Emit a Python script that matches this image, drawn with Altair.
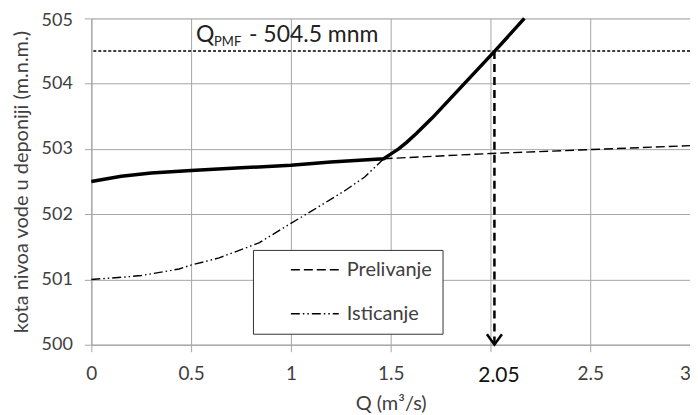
import altair as alt
import pandas as pd

# ---- data ----
thick_x = [0, 0.15, 0.3, 0.5, 0.75, 1.0, 1.2, 1.465, 1.5, 1.54, 1.58, 1.63, 1.71, 1.875, 2.025, 2.17]
thick_y = [502.5, 502.58, 502.63, 502.67, 502.71, 502.75, 502.8, 502.85, 502.92, 503.0, 503.1, 503.24, 503.48, 504.02, 504.51, 505.0]

prel_x = [1.465, 2.0, 2.5, 3.0]
prel_y = [502.85, 502.93, 502.99, 503.05]

ist_x = [0, 0.16, 0.25, 0.44, 0.5, 0.64, 0.84, 1.0, 1.105, 1.27, 1.37, 1.465]
ist_y = [501.0, 501.035, 501.06, 501.16, 501.22, 501.33, 501.56, 501.86, 502.05, 502.36, 502.57, 502.85]

series_names = ["Prelivanje", "Isticanje"]
pmf_level = 504.5
pmf_q = 2.02
bottom_level = 500
label_q = 0.525
label_y = 504.64
label_parts = ["Q", "PMF", "- 504.5 mnm"]

x_ticks = [0, 0.5, 1, 1.5, 2, 2.5, 3]
y_ticks = [500, 501, 502, 503, 504, 505]

FONT = "Lato"
GRID = "#a6a6a6"
TXT = "#404040"

df_thick = pd.DataFrame({"Q": thick_x, "H": thick_y})
df_series = pd.concat([
    pd.DataFrame({"Q": prel_x, "H": prel_y, "s": series_names[0], "o": range(len(prel_x))}),
    pd.DataFrame({"Q": ist_x, "H": ist_y, "s": series_names[1], "o": range(len(ist_x))}),
])
df_pmf = pd.DataFrame({"H": [pmf_level]})
df_arrow = pd.DataFrame({"Q": [pmf_q], "H": [pmf_level], "H2": [bottom_level]})
df_tip = pd.DataFrame({"Q": [pmf_q], "H": [bottom_level]})
df_lab = pd.DataFrame({"Q": [label_q], "H": [label_y]})

xscale = alt.Scale(domain=[0, 3], nice=False, zero=False)
yscale = alt.Scale(domain=[500, 505], nice=False, zero=False)

xaxis = alt.Axis(
    values=x_ticks, format="~g", labelFlush=False,
    labelExpr="datum.value == 2 ? '2.05' : datum.label",
    labelFontSize={"condition": {"test": "datum.value == 2", "value": 21}, "value": 19},
    labelColor={"condition": {"test": "datum.value == 2", "value": "#111111"}, "value": TXT},
    labelOffset={"expr": "datum.value == 2 ? 8 : (datum.value == 3 ? -5 : 0)"},
    labelFont=FONT, labelPadding=13,
    grid=True, gridColor=GRID, gridWidth=1,
    domainColor=GRID, tickColor=GRID, tickSize=7,
    title="Q (m³/s)", titleFont=FONT, titleFontSize=20, titleFontWeight="normal",
    titleColor=TXT, titlePadding=8,
)
yaxis = alt.Axis(
    values=y_ticks, format="d", labelFlush=False,
    labelOffset={"condition": {"test": "datum.value == 505", "value": 2}, "value": 0},
    labelFont=FONT, labelFontSize=18, labelColor=TXT, labelPadding=12,
    grid=True, gridColor=GRID, gridWidth=1,
    domainColor=GRID, tickColor=GRID, tickSize=7,
    title="kota nivoa vode u deponiji (m.n.m.)", titleFont=FONT, titleFontSize=20,
    titleFontWeight="normal", titleColor=TXT, titlePadding=10,
)

X = alt.X("Q:Q", scale=xscale, axis=xaxis)
Y = alt.Y("H:Q", scale=yscale, axis=yaxis)
Xp = alt.X("Q:Q", scale=xscale)
Yp = alt.Y("H:Q", scale=yscale)

thick = alt.Chart(df_thick).mark_line(color="black", strokeWidth=3.5).encode(x=X, y=Y)

series = alt.Chart(df_series).mark_line(color="black", strokeWidth=1.4).encode(
    x=Xp, y=Yp, order="o:Q",
    strokeDash=alt.StrokeDash(
        "s:N",
        scale=alt.Scale(domain=series_names, range=[[9, 4], [9, 3, 1.5, 3, 1.5, 3]]),
        legend=alt.Legend(
            title=None, orient="none", legendX=162, legendY=232,
            symbolType="M-4,0L4,0", symbolSize=144, symbolStrokeWidth=1.5,
            symbolStrokeColor="black", symbolOffset=42,
            labelFont=FONT, labelFontSize=20, labelColor=TXT,
            labelExpr="datum.label + '\u2003\u2002'",
            strokeColor="#333333", fillColor="white", padding=10,
            rowPadding=24, labelOffset=22,
        ),
    ),
)

pmf = alt.Chart(df_pmf).mark_rule(color="black", strokeDash=[3, 2], strokeWidth=1.5).encode(y=Yp)

arrow = alt.Chart(df_arrow).mark_rule(color="black", strokeDash=[8, 5], strokeWidth=2.5).encode(
    x=Xp, y=Yp, y2="H2:Q"
)
tip = alt.Chart(df_tip).mark_point(
    shape="M-1,-1.4L0,0L1,-1.4", size=225, filled=False, color="black", strokeWidth=2.5, opacity=1
).encode(x=Xp, y=Yp)

base_lab = alt.Chart(df_lab)
lab_q = base_lab.mark_text(text=label_parts[0], align="left", baseline="alphabetic",
                           font=FONT, fontSize=23, color="#222222").encode(x=Xp, y=Yp)
lab_sub = base_lab.mark_text(text=label_parts[1], align="left", baseline="alphabetic",
                             font=FONT, fontSize=13, color="#222222", dx=18, dy=4).encode(x=Xp, y=Yp)
lab_rest = base_lab.mark_text(text=label_parts[2], align="left", baseline="alphabetic",
                              font=FONT, fontSize=23, color="#222222", dx=53).encode(x=Xp, y=Yp)

chart = alt.layer(thick, series, pmf, arrow, tip, lab_q, lab_sub, lab_rest).properties(
    width=600, height=327,
    autosize=alt.AutoSizeParams(type="none"),
    padding={"left": 83.5, "top": 10, "right": 0, "bottom": 70},
).configure_view(stroke=None).configure(background="white")

chart.save("out.html", embed_options={"renderer": "svg", "actions": False})
